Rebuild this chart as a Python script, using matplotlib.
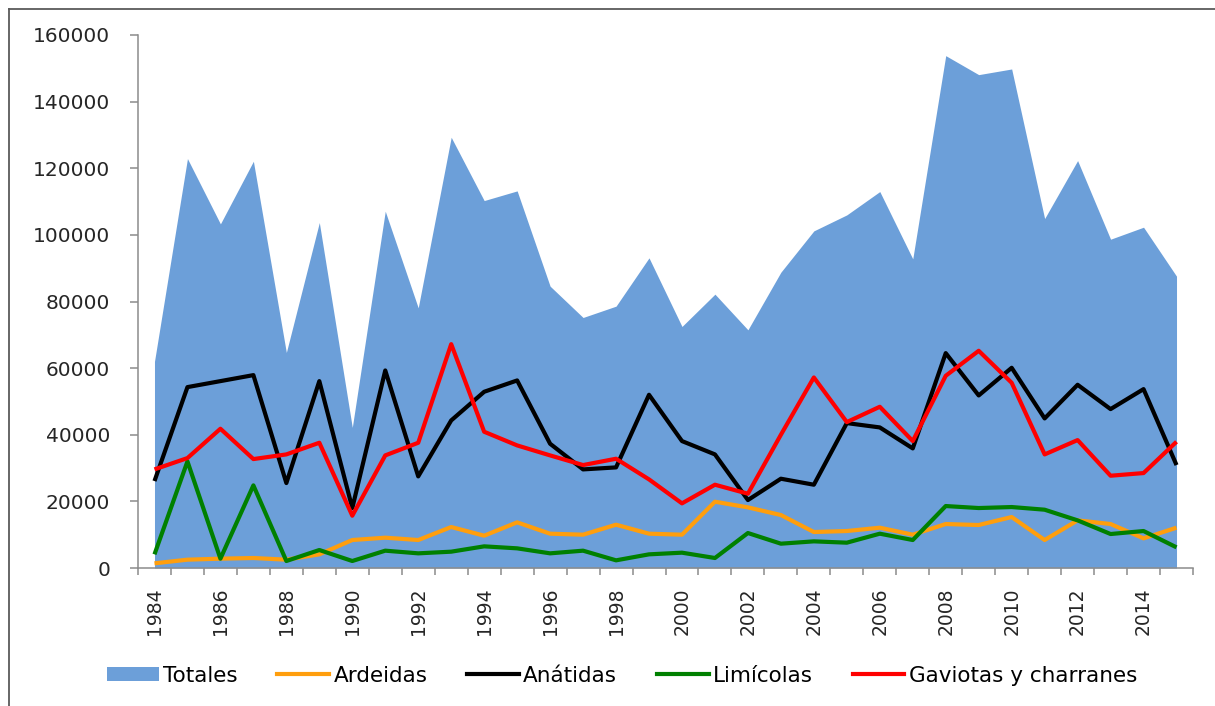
import matplotlib
matplotlib.use("Agg")
import matplotlib.pyplot as plt
from matplotlib.patches import Patch
from matplotlib.lines import Line2D

years = list(range(1984, 2016))

totales = [62000, 122900, 103300, 122100, 64700, 103700, 42200, 107100, 78100, 129300,
           110300, 113200, 84600, 75200, 78600, 93100, 72500, 82200, 71500, 88800,
           101200, 106000, 113000, 92800, 153800, 148100, 149800, 104900, 122300, 98700,
           102300, 87600]
ardeidas = [1400, 2500, 2800, 3000, 2500, 4100, 8400, 9100, 8400, 12300,
            9700, 13700, 10300, 10000, 13000, 10300, 10000, 19900, 18200, 15900,
            10800, 11100, 12100, 10000, 13200, 12900, 15300, 8400, 14300, 13200,
            8900, 12100]
anatidas = [26100, 54300, 56100, 57900, 25500, 56100, 18000, 59300, 27500, 44300,
            52900, 56300, 37300, 29600, 30200, 52000, 38100, 34100, 20400, 26800,
            25000, 43500, 42200, 35900, 64500, 51800, 60100, 44900, 55000, 47700,
            53700, 30900]
limicolas = [4100, 32000, 2800, 24800, 2100, 5400, 2100, 5200, 4400, 4900,
             6500, 5900, 4400, 5200, 2300, 4100, 4600, 3000, 10500, 7300,
             8000, 7600, 10300, 8400, 18600, 18000, 18300, 17500, 14300, 10200,
             11100, 6200]
gaviotas = [29600, 33000, 41800, 32700, 34100, 37600, 15700, 33800, 37600, 67200,
            40900, 36800, 33800, 30900, 32800, 26600, 19400, 25000, 22300, 40000,
            57200, 43800, 48400, 38100, 57700, 65200, 55600, 34100, 38400, 27700,
            28500, 37900]

names = ["Totales", "Ardeidas", "Anátidas", "Limícolas", "Gaviotas y charranes"]
colors = ["#6C9FD9", "#FF9E0D", "#000000", "#008000", "#FF0000"]

plt.rcParams['font.family'] = ['DejaVu Sans']

fig = plt.figure(figsize=(12.15, 7.06), dpi=100)
ax = fig.add_axes([138 / 1215, 138 / 706, 1055 / 1215, 533 / 706])

x = list(range(len(years)))
ax.fill_between(x, totales, 0, color=colors[0], linewidth=0)
for vals, c in zip([ardeidas, anatidas, limicolas, gaviotas], colors[1:]):
    ax.plot(x, vals, color=c, linewidth=3, solid_joinstyle='round', solid_capstyle='butt')

ax.set_xlim(-0.5, len(years) - 0.5)
ax.set_ylim(0, 160000)

ax.set_yticks(range(0, 160001, 20000))
ax.set_yticklabels([str(v) for v in range(0, 160001, 20000)], fontsize=14.5, color='#262626')
ax.tick_params(axis='y', length=6, width=1.1, color='#8C8C8C', pad=14)

ax.set_xticks(x[::2])
ax.set_xticklabels([str(y) for y in years[::2]], rotation=90, fontsize=13.5, color='#262626')
ax.set_xticks([i - 0.5 for i in range(len(years) + 1)], minor=True)
ax.tick_params(axis='x', which='major', length=0, pad=14)
ax.tick_params(axis='x', which='minor', length=5, width=1.1, color='#8C8C8C')

for s in ['top', 'right']:
    ax.spines[s].set_visible(False)
for s in ['left', 'bottom']:
    ax.spines[s].set_color('#8C8C8C')
    ax.spines[s].set_linewidth(1.1)

handles = [Patch(facecolor=colors[0], edgecolor='none')]
for c in colors[1:]:
    handles.append(Line2D([0], [0], color=c, linewidth=3))
fig.legend(handles, names, loc='center', bbox_to_anchor=(0.512, 0.043), ncol=5,
           frameon=False, fontsize=15.5, handlelength=2.4, handletextpad=0.2,
           columnspacing=1.85, handleheight=0.65)

# outer chart border
fig.add_artist(Line2D([9 / 1215, 9 / 1215], [0, 1 - 9 / 706], color='#5A5A5A', linewidth=1.3,
                      transform=fig.transFigure))
fig.add_artist(Line2D([9 / 1215, 1], [1 - 9 / 706, 1 - 9 / 706], color='#5A5A5A', linewidth=1.3,
                      transform=fig.transFigure))

fig.savefig("out.png", dpi=100)
